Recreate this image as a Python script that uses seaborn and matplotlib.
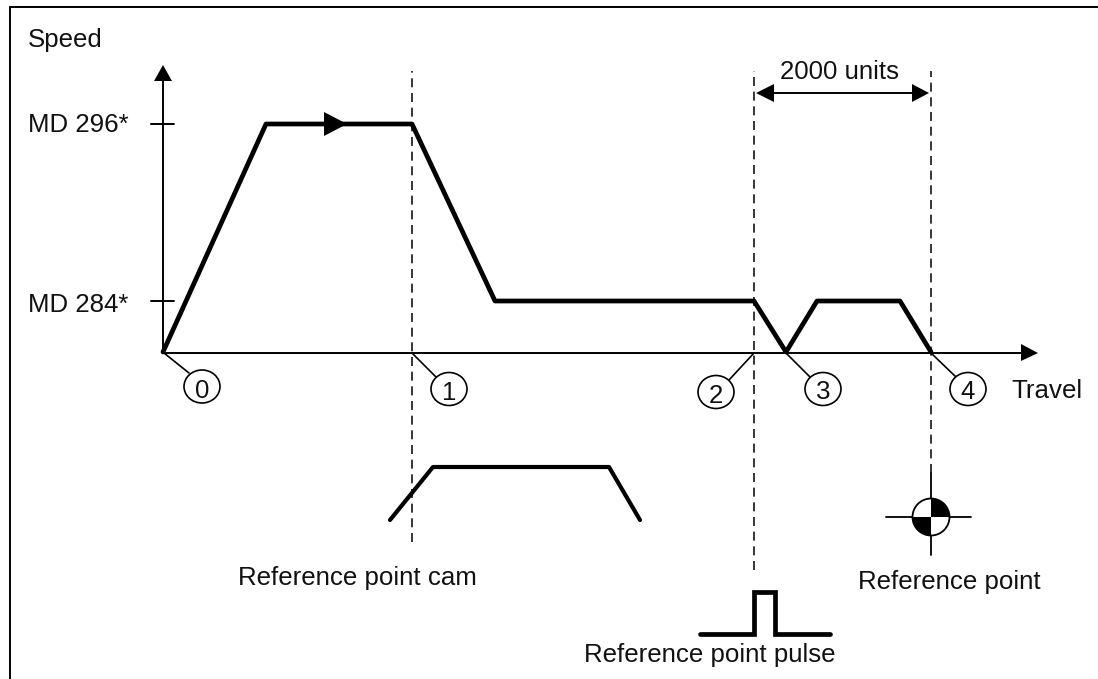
import matplotlib
matplotlib.use("Agg")
import matplotlib.pyplot as plt
from matplotlib.patches import Ellipse, Wedge, Circle, Polygon
import pandas as pd
import seaborn as sns

# --- data (travel / speed, measured from the origin of the diagram) ---
speed_travel = [0, 103, 249, 332, 591, 623, 654, 737, 768]
speed_values = [0, 228, 228, 51, 51, 0, 51, 51, 0]
cam_travel = [227, 270, 446, 477]
cam_values = [-168, -115, -115, -168]
pulse_travel = [537, 591, 591, 612, 612, 667]
pulse_values = [-282, -282, -240, -240, -282, -282]
tick_speeds = [228, 51]
tick_labels = ["MD 296*", "MD 284*"]
event_ids = ["0", "1", "2", "3", "4"]
event_from = [1, 249, 591, 623, 768]
reference_travel = 768
reference_speed = -165

sns.set_theme(style="white")
plt.rcParams["font.family"] = ["Liberation Sans", "DejaVu Sans"]
W, H = 1098, 679
fig = plt.figure(figsize=(W / 100, H / 100), dpi=100, facecolor="white")
ax = fig.add_axes([0, 0, 1, 1])
ax.set_xlim(-163, W - 163)
ax.set_ylim(352 - H, 352)
ax.axis("off")
FS = 18.6


def line(xs, ys, lw, **kw):
    df = pd.DataFrame({"x": xs, "y": ys})
    sns.lineplot(data=df, x="x", y="y", estimator=None, sort=False, color="black",
                 linewidth=lw, ax=ax, legend=False, **kw)


def label(px, baseline, s, ha="left"):
    ax.text(px - 163, 352 - baseline, s, fontsize=FS, ha=ha, va="baseline", color="#111111")


# outer frame: only the top and left edges are present
line([-153.5, -153.5], [345, -327], 1.4)
line([-153.5, 935], [345, 345], 1.4)

# axes with arrow heads
line([0, 0], [-1, 271], 1.4)
line([0, 858], [-1, -1], 1.4)
ax.add_patch(Polygon([[0, 287], [-9, 271], [9, 271]], fc="black", ec="none"))
ax.add_patch(Polygon([[875, -1], [858, 8], [858, -9]], fc="black", ec="none"))
for s, lab, base in zip(tick_speeds, tick_labels, [132, 312]):
    line([-12, 11], [s, s], 1.4)
    label(27.5, base, lab)

# dashed guides
dash = dict(linestyle=(0, (5.9, 3.7)))
line([249, 249], [-190, 281], 1.1, **dash)
line([591, 591], [-218, 281], 1.1, **dash)
line([768, 768], [-121, 281], 1.1, **dash)

# curves
line(speed_travel, speed_values, 3.4, solid_joinstyle="round")
line(cam_travel, cam_values, 3.0, solid_joinstyle="round", solid_capstyle="round")
line(pulse_travel, pulse_values, 3.4, solid_joinstyle="miter")
ax.add_patch(Polygon([[184, 228], [161, 240], [161, 216]], fc="black", ec="none", zorder=5))

# 2000 units dimension
line([600, 760], [259, 259], 1.4)
ax.add_patch(Polygon([[593, 259], [611, 268], [611, 250]], fc="black", ec="none"))
ax.add_patch(Polygon([[766, 259], [749, 268], [749, 250]], fc="black", ec="none"))
ax.text(839.5 - 163, 352 - 79, "2000 units", fontsize=FS, ha="center", va="baseline", color="#111111")

# numbered event markers
centers = [(39, -34.5), (286, -37), (553, -40), (660, -37), (805, -37)]
ends = [(26, -21), (273, -25), (566, -28), (647, -25), (793, -25)]
digit_base = [398, 400, 403, 399, 399]
for k, (c, e, f) in enumerate(zip(centers, ends, event_from)):
    line([f, e[0]], [-1, e[1]], 1.2)
    ax.add_patch(Ellipse(c, 36, 33, fc="white", ec="black", lw=1.2, zorder=4))
    ax.text(c[0], 352 - digit_base[k], event_ids[k], fontsize=FS, ha="center", va="baseline",
            zorder=5, color="#111111")

# reference point symbol
rx, ry = reference_travel, reference_speed
line([rx - 45, rx + 40], [ry, ry], 1.3)
line([rx, rx], [ry + 44, ry - 38], 1.3)
ax.add_patch(Circle((rx, ry), 18.5, fc="white", ec="black", lw=1.3, zorder=4))
ax.add_patch(Wedge((rx, ry), 18.5, 0, 90, fc="black", ec="none", zorder=5))
ax.add_patch(Wedge((rx, ry), 18.5, 180, 270, fc="black", ec="none", zorder=5))

# labels
label(28, 47, "Speed")
label(1011, 398, "Travel")
label(238, 585, "Reference point cam")
label(858.5, 589, "Reference point")
label(583.5, 662, "Reference point pulse")

fig.savefig("out.png", dpi=100, facecolor="white")
